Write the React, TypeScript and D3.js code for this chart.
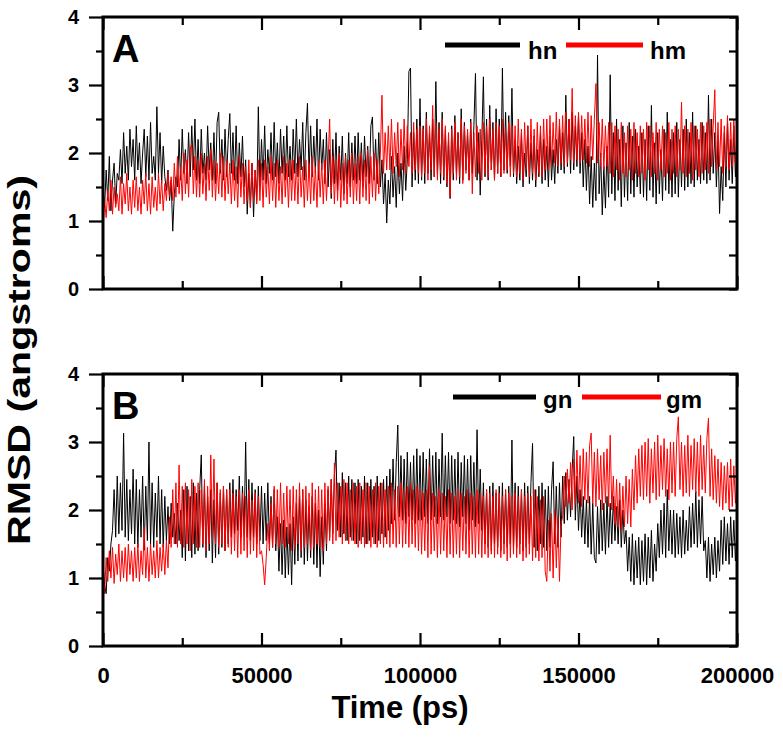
import React, { useEffect, useRef } from 'react';
import * as d3 from 'd3';

// RMSD samples, one value every 500 ps (0 .. 200000 ps)
// each row covers 10000 ps
const sampleStep = 500;

const hn = [
  1.5, 1.2, 1.75, 1.3, 1.95, 1.15, 1.6, 1.85, 1.25, 1.7, 1.6, 2.05, 1.55, 2.3, 1.7, 2.1, 1.6, 2.35, 1.8, 2.2,
  1.6, 2.4, 1.75, 2.15, 1.55, 2.0, 2.35, 1.65, 2.25, 1.6, 2.45, 1.7, 1.95, 1.6, 2.68, 1.7, 2.3, 1.55, 2.1, 1.65,
  1.45, 1.75, 1.3, 1.6, 0.85, 1.4, 1.65, 1.5, 2.2, 1.6, 2.35, 1.7, 2.05, 1.55, 2.3, 1.65, 2.4, 1.75, 2.5, 1.6,
  2.2, 1.55, 2.35, 1.7, 2.0, 1.6, 2.4, 1.75, 2.15, 1.6, 2.3, 1.55, 2.45, 2.6, 1.7, 2.2, 1.6, 2.35, 1.65, 2.2,
  2.58, 1.7, 2.3, 1.6, 2.4, 1.55, 2.15, 1.65, 2.25, 1.5, 1.9, 1.1, 1.7, 1.2, 1.85, 1.06, 1.75, 1.3, 2.68, 1.5,
  2.2, 1.6, 2.4, 1.55, 2.05, 1.7, 2.3, 1.6, 2.45, 1.65, 2.15, 1.55, 2.35, 1.7, 2.25, 1.6, 2.4, 1.65, 2.1, 1.6,
  2.35, 1.7, 2.5, 1.65, 2.2, 1.75, 2.45, 1.6, 2.3, 2.73, 1.7, 2.4, 1.65, 2.25, 1.7, 2.5, 1.6, 2.35, 1.75, 2.2,
  1.55, 2.3, 1.5, 2.05, 1.33, 2.2, 1.55, 2.3, 1.45, 2.1, 1.6, 2.25, 1.4, 2.0, 1.55, 2.3, 1.5, 2.15, 1.6, 2.25,
  1.55, 2.3, 1.6, 2.15, 1.5, 2.25, 1.65, 2.1, 1.55, 2.4, 2.53, 1.6, 2.2, 1.55, 2.3, 1.5, 1.9, 1.25, 1.7, 0.97,
  1.6, 1.25, 1.95, 1.35, 1.8, 1.2, 2.0, 1.4, 1.85, 1.3, 2.1, 1.45, 1.9, 3.2, 3.25, 1.5, 2.3, 1.6, 2.5, 1.55,
  2.8, 1.6, 2.4, 1.55, 2.6, 1.7, 2.3, 1.6, 2.5, 1.65, 3.05, 1.7, 2.45, 1.55, 2.6, 1.6, 2.35, 1.5, 2.2, 1.33,
  2.4, 1.6, 2.55, 1.7, 2.3, 1.55, 2.65, 1.6, 2.45, 1.75, 2.3, 1.6, 2.5, 1.7, 2.4, 3.17, 1.6, 2.3, 1.38, 2.2,
  3.12, 1.65, 2.5, 1.6, 2.7, 1.75, 2.45, 1.6, 2.65, 1.7, 2.5, 1.65, 3.25, 1.75, 2.6, 1.7, 2.55, 1.8, 2.95, 1.65,
  2.2, 1.55, 2.1, 1.6, 2.3, 1.5, 2.0, 1.65, 2.4, 1.55, 2.15, 1.6, 2.25, 1.5, 2.05, 1.65, 2.3, 1.55, 2.2, 1.6,
  2.1, 1.5, 2.25, 1.6, 2.05, 1.55, 2.2, 1.7, 2.4, 1.75, 2.3, 1.7, 2.85, 1.8, 2.5, 1.7, 2.6, 1.75, 2.4, 1.8,
  2.55, 1.7, 2.3, 1.5, 2.2, 1.45, 2.1, 1.25, 1.95, 1.2, 1.85, 1.3, 3.44, 1.4, 2.0, 1.09, 1.8, 1.19, 2.1, 1.35,
  3.15, 1.4, 2.3, 1.3, 2.5, 1.45, 2.2, 1.21, 2.4, 1.35, 2.15, 1.3, 2.45, 1.4, 2.25, 1.35, 2.35, 1.5, 2.1, 1.4,
  2.3, 1.35, 2.2, 1.3, 2.4, 1.45, 2.7, 1.35, 2.15, 1.25, 2.3, 1.4, 2.05, 1.3, 2.35, 1.45, 2.6, 1.4, 2.2, 1.35,
  2.3, 1.4, 2.45, 1.35, 2.2, 1.5, 2.35, 1.45, 2.5, 1.5, 2.3, 1.55, 2.6, 1.5, 2.4, 1.6, 2.2, 1.55, 2.45, 1.6,
  2.3, 1.55, 2.85, 1.6, 2.5, 1.7, 2.3, 1.5, 2.2, 1.11, 1.8, 1.3, 2.3, 1.5, 2.45, 1.6, 2.2, 1.55, 2.4, 1.65,
  2.1,
];

const hm = [
  0.87, 1.3, 1.05, 1.45, 1.15, 1.6, 1.1, 1.5, 1.2, 1.4, 1.15, 1.65, 1.1, 1.55, 1.25, 1.7, 1.15, 1.5, 1.1, 1.6,
  1.2, 1.65, 1.15, 1.5, 1.1, 1.6, 1.25, 1.7, 1.15, 1.55, 1.1, 1.65, 1.2, 1.5, 1.15, 1.7, 1.25, 1.6, 1.15, 1.55,
  1.3, 1.7, 1.35, 1.65, 1.3, 1.85, 1.35, 1.95, 1.4, 1.8, 1.3, 2.0, 1.4, 1.9, 1.35, 2.05, 2.14, 1.4, 1.95, 1.35,
  1.9, 1.35, 2.0, 1.4, 1.85, 1.3, 1.95, 1.45, 2.05, 1.35, 1.9, 1.3, 1.85, 1.4, 2.0, 1.35, 1.95, 1.3, 1.9, 1.4,
  1.85, 1.25, 1.9, 1.3, 1.8, 1.2, 1.95, 1.35, 1.85, 1.25, 1.8, 1.3, 1.9, 1.2, 1.85, 1.3, 1.75, 1.25, 1.9, 1.3,
  1.85, 1.2, 1.9, 1.35, 1.8, 1.25, 1.95, 1.3, 1.85, 1.2, 1.9, 1.3, 1.8, 1.25, 1.95, 1.35, 1.85, 1.2, 1.9, 1.3,
  1.9, 1.3, 1.85, 1.25, 1.95, 1.35, 1.8, 1.2, 1.9, 1.3, 1.85, 1.25, 1.95, 1.3, 1.8, 1.2, 1.9, 1.35, 1.85, 1.25,
  1.9, 1.3, 1.85, 2.5, 1.4, 1.95, 1.25, 1.9, 1.3, 2.0, 1.2, 1.85, 1.3, 1.95, 1.25, 1.9, 1.35, 2.0, 1.25, 1.85,
  1.3, 1.95, 1.25, 2.0, 1.35, 1.9, 1.3, 2.05, 1.25, 1.95, 1.35, 2.0, 1.3, 1.9, 1.4, 2.0, 2.85, 1.7, 2.3, 1.75,
  2.4, 1.75, 2.5, 1.7, 2.3, 1.8, 2.45, 1.65, 2.35, 1.75, 2.5, 1.7, 2.4, 1.8, 2.3, 1.7, 2.45, 1.75, 2.35, 1.7,
  2.4, 1.65, 2.35, 1.7, 2.5, 1.6, 2.4, 1.75, 2.7, 1.65, 2.45, 1.6, 2.35, 1.7, 2.5, 1.65, 2.4, 1.55, 2.3, 1.35,
  2.35, 1.7, 2.45, 1.6, 2.3, 1.65, 2.5, 1.55, 2.4, 1.7, 2.35, 1.6, 2.45, 1.4, 2.3, 1.65, 2.4, 1.7, 2.35, 1.6,
  2.45, 1.7, 2.4, 1.65, 2.5, 1.75, 2.35, 1.6, 2.45, 1.7, 2.4, 1.65, 2.5, 1.7, 2.35, 1.75, 2.45, 1.65, 2.4, 1.7,
  2.4, 1.65, 2.5, 1.7, 2.35, 1.6, 2.45, 1.75, 2.4, 1.65, 2.5, 1.7, 2.35, 1.6, 2.45, 1.7, 2.4, 1.65, 2.5, 1.75,
  2.5, 1.75, 2.55, 1.8, 2.45, 1.85, 2.6, 1.8, 2.5, 1.85, 2.55, 1.8, 2.6, 1.85, 2.5, 1.9, 2.95, 1.85, 2.55, 1.9,
  2.6, 1.85, 2.55, 1.9, 2.5, 1.85, 2.6, 1.8, 2.55, 1.9, 2.5, 3.02, 1.85, 2.45, 1.8, 2.5, 1.75, 2.4, 1.8, 2.45,
  1.7, 2.45, 1.65, 2.4, 1.75, 2.35, 1.6, 2.45, 1.7, 2.3, 1.65, 2.4, 1.75, 2.35, 1.6, 2.45, 1.7, 2.3, 1.65, 2.4,
  1.7, 2.35, 1.6, 2.45, 1.75, 2.4, 1.65, 2.3, 1.7, 2.45, 1.6, 2.35, 1.75, 2.4, 1.65, 2.3, 1.7, 2.45, 1.6, 2.35,
  1.7, 2.4, 1.65, 2.35, 1.75, 2.75, 1.7, 2.4, 1.65, 2.35, 1.7, 2.45, 1.6, 2.4, 1.75, 2.35, 1.65, 2.45, 1.7, 2.4,
  1.75, 2.45, 1.7, 2.5, 1.8, 2.4, 2.93, 1.75, 2.45, 1.8, 2.5, 1.7, 2.4, 1.8, 2.55, 1.75, 2.45, 1.8, 2.5, 1.85,
  2.2,
];

const gn = [
  1.2, 0.9, 0.77, 1.3, 1.1, 1.5, 1.7, 2.3, 1.6, 2.5, 1.65, 2.4, 1.7, 3.13, 1.6, 2.45, 1.55, 2.3, 1.65, 2.6,
  1.5, 2.45, 1.45, 2.3, 1.6, 2.5, 1.41, 2.35, 1.55, 3.0, 1.5, 2.4, 1.45, 2.25, 1.6, 2.5, 1.5, 2.3, 1.45, 2.2,
  1.55, 2.05, 1.5, 2.1, 1.6, 1.95, 1.5, 2.1, 1.55, 2.0, 1.3, 2.3, 1.25, 2.35, 1.4, 2.2, 1.3, 2.4, 1.35, 2.25,
  1.4, 2.3, 2.81, 1.45, 2.35, 1.3, 2.2, 1.4, 2.3, 1.22, 2.15, 1.3, 2.4, 1.35, 2.25, 1.45, 2.35, 1.4, 2.3, 1.5,
  2.4, 1.6, 2.45, 1.65, 2.3, 1.7, 2.5, 1.6, 2.35, 1.65, 3.0, 1.6, 2.45, 1.55, 2.4, 1.6, 2.3, 1.5, 2.35, 1.55,
  2.35, 1.5, 2.25, 1.55, 2.4, 1.5, 2.2, 1.45, 2.3, 1.4, 1.9, 1.1, 1.8, 1.05, 1.85, 1.0, 1.75, 1.05, 1.8, 0.9,
  1.9, 1.2, 2.1, 1.25, 2.2, 1.3, 2.3, 1.2, 2.15, 1.25, 2.05, 1.3, 2.2, 1.2, 2.1, 1.15, 2.0, 1.02, 1.9, 1.2,
  2.1, 1.4, 2.3, 1.6, 2.45, 1.65, 2.5, 2.88, 1.7, 2.4, 1.6, 2.55, 1.65, 2.4, 1.55, 2.5, 1.6, 2.45, 1.55, 2.4,
  1.5, 2.45, 1.55, 2.35, 1.6, 2.5, 1.5, 2.4, 1.55, 2.45, 1.6, 2.35, 1.5, 2.5, 1.55, 2.4, 1.65, 2.45, 1.6, 2.5,
  1.7, 2.6, 1.8, 2.75, 1.85, 2.7, 3.25, 1.9, 2.8, 1.85, 2.75, 1.8, 2.85, 1.9, 2.7, 1.85, 2.8, 1.8, 2.9, 1.85,
  2.8, 1.85, 2.85, 1.9, 2.75, 1.8, 2.9, 1.85, 2.8, 1.9, 2.85, 1.8, 2.75, 1.9, 3.13, 1.85, 2.8, 1.9, 2.85, 1.8,
  2.8, 1.85, 2.75, 1.8, 2.85, 1.75, 2.7, 1.9, 2.8, 1.8, 2.75, 1.7, 2.8, 1.85, 2.7, 1.75, 3.18, 1.8, 2.6, 1.7,
  2.4, 1.5, 2.3, 1.45, 2.35, 1.4, 2.4, 1.5, 2.25, 1.45, 2.35, 1.4, 2.4, 1.5, 2.3, 1.45, 2.35, 1.5, 3.03, 1.45,
  2.4, 1.45, 2.35, 1.5, 2.3, 1.4, 2.4, 1.45, 2.35, 1.5, 2.4, 2.98, 1.45, 2.3, 1.4, 2.35, 1.5, 2.4, 1.45, 2.3,
  1.4, 2.35, 1.45, 2.3, 2.71, 1.5, 2.35, 1.45, 2.4, 1.6, 2.5, 1.8, 2.55, 1.85, 2.45, 1.9, 2.6, 3.08, 1.85, 2.5,
  1.7, 2.3, 1.6, 2.2, 1.5, 2.15, 1.45, 2.2, 1.35, 2.1, 1.3, 1.22, 2.05, 1.35, 2.15, 1.4, 2.1, 1.35, 2.2, 1.45,
  2.1, 1.5, 2.2, 1.55, 2.05, 1.5, 2.15, 1.45, 2.0, 1.5, 1.7, 1.1, 1.6, 0.95, 1.65, 0.9, 1.55, 1.0, 1.6, 0.9,
  1.55, 0.95, 1.65, 0.9, 1.6, 1.0, 1.7, 0.95, 1.5, 1.1, 1.8, 1.3, 2.0, 1.35, 2.1, 1.3, 2.3, 1.4, 2.0, 1.35,
  2.0, 1.3, 1.95, 1.35, 1.9, 1.3, 2.0, 1.35, 1.85, 1.4, 2.05, 1.45, 2.1, 1.5, 2.27, 1.45, 2.15, 1.5, 2.2, 1.4,
  1.55, 1.0, 1.6, 0.95, 1.5, 1.05, 1.6, 1.0, 1.55, 1.1, 1.85, 1.2, 1.9, 1.25, 1.8, 1.2, 1.9, 1.3, 1.85, 1.25,
  1.75,
];

const gm = [
  1.0, 0.77, 1.3, 0.95, 1.4, 1.0, 1.45, 0.92, 1.35, 1.05, 1.5, 0.95, 1.4, 1.0, 1.45, 0.95, 1.5, 1.05, 1.4, 0.95,
  1.45, 1.0, 1.5, 0.95, 1.4, 1.05, 1.75, 1.0, 1.45, 0.95, 1.5, 1.05, 1.4, 1.0, 1.55, 1.0, 1.45, 1.1, 1.5, 1.05,
  1.55, 1.15, 1.9, 1.45, 2.3, 1.5, 2.4, 1.45, 2.66, 1.5, 2.35, 1.45, 2.4, 1.5, 2.3, 1.4, 2.45, 1.5, 2.35, 1.45,
  2.4, 1.45, 2.3, 1.5, 2.45, 1.4, 2.35, 1.5, 2.81, 1.6, 2.75, 1.5, 2.4, 1.45, 2.3, 1.5, 2.35, 1.4, 2.3, 1.45,
  2.3, 1.35, 2.25, 1.4, 2.2, 1.3, 2.3, 1.35, 2.25, 1.4, 2.2, 1.3, 2.3, 1.35, 2.15, 1.4, 2.25, 1.3, 2.2, 1.35,
  1.4, 1.2, 0.9, 1.3, 1.8, 1.4, 2.1, 1.45, 2.35, 1.5, 2.3, 1.45, 2.4, 1.5, 2.25, 1.45, 2.35, 1.5, 2.3, 1.4,
  2.35, 1.45, 2.3, 1.5, 2.4, 1.4, 2.3, 1.45, 2.35, 1.5, 2.25, 1.4, 2.4, 1.45, 2.3, 1.5, 2.35, 1.45, 2.3, 1.4,
  2.4, 1.5, 2.35, 1.55, 2.45, 1.5, 2.69, 1.55, 2.4, 1.6, 2.35, 1.5, 2.45, 1.55, 2.4, 1.5, 2.3, 1.55, 2.4, 1.5,
  2.35, 1.45, 2.4, 1.5, 2.3, 1.45, 2.4, 1.5, 2.35, 1.45, 2.3, 1.5, 2.4, 1.45, 2.35, 1.5, 2.4, 1.45, 2.3, 1.5,
  2.35, 1.45, 2.4, 1.5, 2.3, 1.45, 2.35, 1.5, 2.4, 1.45, 2.3, 1.5, 2.35, 1.45, 2.4, 1.5, 2.3, 1.45, 2.35, 1.4,
  2.3, 1.35, 2.25, 1.4, 2.3, 1.3, 2.64, 1.35, 2.25, 1.4, 2.2, 1.3, 2.3, 1.35, 2.25, 1.4, 2.2, 1.3, 2.3, 1.35,
  2.25, 1.3, 2.2, 1.35, 2.3, 1.3, 2.25, 1.4, 2.2, 1.35, 2.3, 1.3, 2.25, 1.35, 2.2, 1.3, 2.3, 1.35, 2.25, 1.3,
  2.2, 1.35, 2.3, 1.3, 2.25, 1.35, 2.2, 1.3, 2.3, 1.35, 2.25, 1.3, 2.2, 1.35, 2.3, 1.25, 2.25, 1.3, 2.2, 1.35,
  2.25, 1.3, 2.2, 1.35, 2.3, 1.25, 2.2, 1.3, 2.25, 1.35, 2.2, 1.25, 2.3, 1.3, 2.2, 1.25, 2.15, 1.3, 2.2, 1.1,
  0.95, 1.85, 1.1, 1.95, 1.0, 2.0, 1.15, 1.9, 0.95, 1.8, 1.9, 2.5, 2.05, 2.6, 2.1, 2.7, 2.0, 2.75, 2.1, 2.88,
  2.1, 2.8, 2.05, 2.9, 2.15, 2.85, 2.1, 2.95, 3.13, 2.1, 2.85, 2.05, 2.9, 2.15, 2.8, 2.0, 2.85, 2.1, 2.9, 2.05,
  3.1, 2.0, 2.5, 1.8, 2.45, 1.75, 2.4, 1.7, 2.35, 1.75, 2.5, 1.8, 2.45, 1.75, 2.6, 2.0, 2.8, 2.1, 2.9, 2.2,
  2.95, 2.15, 3.0, 2.2, 3.05, 2.1, 2.9, 2.25, 3.0, 2.15, 3.1, 2.2, 2.95, 2.3, 3.05, 2.2, 2.9, 2.15, 3.0, 2.25,
  3.0, 2.2, 3.05, 3.37, 2.3, 3.0, 2.2, 2.95, 2.25, 3.1, 2.2, 2.95, 2.3, 3.05, 2.25, 3.0, 2.2, 3.1, 2.3, 2.95,
  2.25, 3.05, 3.35, 2.2, 2.9, 2.15, 2.8, 2.1, 2.75, 2.05, 2.7, 2.0, 2.65, 2.1, 2.7, 2.0, 2.75, 2.05, 2.65, 2.1,
  2.4,
];

const timeTicks = [0, 50000, 100000, 150000, 200000];
const timeMinorTicks = [25000, 75000, 125000, 175000];
const rmsdTicks = [0, 1, 2, 3, 4];
const rmsdMinorTicks = [0.5, 1.5, 2.5, 3.5];

const panelLabels = ['A', 'B'];
const seriesNames = [['hn', 'hm'], ['gn', 'gm']];
const seriesColors = ['#000000', '#ff0000'];

const W = 783;
const H = 747;
const left = 103;
const right = 737;
const panelTops = [17, 374];
const panelHeight = 272;
const font = '"Liberation Sans", Arial, sans-serif';

// legend layout per panel: [line x0, line x1, text x] for each entry, line y, text baseline
const legendLayout = [
  { items: [[445, 520, 528], [566, 643, 650]], lineY: 45, textY: 59 },
  { items: [[453, 536, 543], [582, 661, 666]], lineY: 397, textY: 408 },
];

const App = () => {
  const chartRef = useRef<SVGSVGElement | null>(null);

  useEffect(() => {
    drawChart();
  }, []);

  const drawChart = () => {
    const svg = d3.select(chartRef.current);
    svg.selectAll('*').remove();

    const x = d3.scaleLinear().domain([0, 200000]).range([left, right]);
    const data = [[hn, hm], [gn, gm]];

    panelTops.forEach((top, p) => {
      const bottom = top + panelHeight;
      const y = d3.scaleLinear().domain([0, 4]).range([bottom, top]);
      const g = svg.append('g');

      const clipId = `clip-${p}`;
      svg.append('clipPath').attr('id', clipId)
        .append('rect')
        .attr('x', left).attr('y', top)
        .attr('width', right - left).attr('height', panelHeight);

      const line = d3.line<number>()
        .x((d, i) => x(i * sampleStep))
        .y(d => y(d));

      data[p].forEach((values, k) => {
        g.append('path')
          .datum(values)
          .attr('clip-path', `url(#${clipId})`)
          .attr('fill', 'none')
          .attr('stroke', seriesColors[k])
          .attr('stroke-width', 1)
          .attr('d', line);
      });

      // left axis (outward ticks with labels)
      const leftAxis = g.append('g')
        .attr('transform', `translate(${left},0)`)
        .call(d3.axisLeft(y).tickValues(rmsdTicks).tickSize(14).tickPadding(10).tickFormat(d3.format('d')));
      g.append('g')
        .attr('transform', `translate(${left},0)`)
        .call(d3.axisLeft(y).tickValues(rmsdMinorTicks).tickSize(7).tickFormat(() => ''));

      // right axis (inward ticks)
      g.append('g')
        .attr('transform', `translate(${right},0)`)
        .call(d3.axisRight(y).tickValues([...rmsdTicks, ...rmsdMinorTicks]).tickSize(-8).tickFormat(() => ''));

      // top axis (inward)
      g.append('g')
        .attr('transform', `translate(0,${top})`)
        .call(d3.axisTop(x).tickValues(timeTicks).tickSize(-13).tickFormat(() => ''));
      g.append('g')
        .attr('transform', `translate(0,${top})`)
        .call(d3.axisTop(x).tickValues(timeMinorTicks).tickSize(-8).tickFormat(() => ''));

      // bottom axis (inward), labels only on the lower panel
      g.append('g')
        .attr('transform', `translate(0,${bottom})`)
        .call(d3.axisBottom(x).tickValues(timeTicks).tickSize(-13).tickPadding(21)
          .tickFormat(p === 1 ? d3.format('d') : () => ''));
      g.append('g')
        .attr('transform', `translate(0,${bottom})`)
        .call(d3.axisBottom(x).tickValues(timeMinorTicks).tickSize(-8).tickFormat(() => ''));

      g.selectAll('.domain').remove();
      g.selectAll('.tick line').attr('stroke', '#000').attr('stroke-width', 2.2);
      g.selectAll('.tick text')
        .attr('fill', '#000')
        .style('font-family', font)
        .style('font-weight', 'bold')
        .style('font-size', '22px');
      leftAxis.selectAll('.tick text').style('font-size', '20px');

      // frame
      g.append('rect')
        .attr('x', left).attr('y', top)
        .attr('width', right - left).attr('height', panelHeight)
        .attr('fill', 'none').attr('stroke', '#000').attr('stroke-width', 3);

      // panel letter
      g.append('text')
        .attr('x', left + 9).attr('y', top + 45)
        .style('font-family', font).style('font-weight', 'bold').style('font-size', '38px')
        .text(panelLabels[p]);

      // legend
      const lg = legendLayout[p];
      lg.items.forEach(([x0, x1, tx], k) => {
        g.append('line')
          .attr('x1', x0).attr('x2', x1)
          .attr('y1', lg.lineY).attr('y2', lg.lineY)
          .attr('stroke', seriesColors[k]).attr('stroke-width', 5);
        g.append('text')
          .attr('x', tx).attr('y', lg.textY)
          .style('font-family', font).style('font-weight', 'bold').style('font-size', '24px')
          .text(seriesNames[p][k]);
      });
    });

    // axis titles
    svg.append('text')
      .attr('x', 400).attr('y', 718)
      .attr('text-anchor', 'middle')
      .style('font-family', font).style('font-weight', 'bold').style('font-size', '31px')
      .text('Time (ps)');

    svg.append('text')
      .attr('transform', 'translate(30,360) rotate(-90)')
      .attr('text-anchor', 'middle')
      .attr('textLength', 370)
      .attr('lengthAdjust', 'spacingAndGlyphs')
      .style('font-family', font).style('font-weight', 'bold').style('font-size', '32px')
      .text('RMSD (angstroms)');
  };

  return (
    <svg
      ref={chartRef}
      width={W}
      height={H}
      style={{ position: 'absolute', left: 0, top: 0, background: '#fff' }}
    />
  );
};

export default App;
